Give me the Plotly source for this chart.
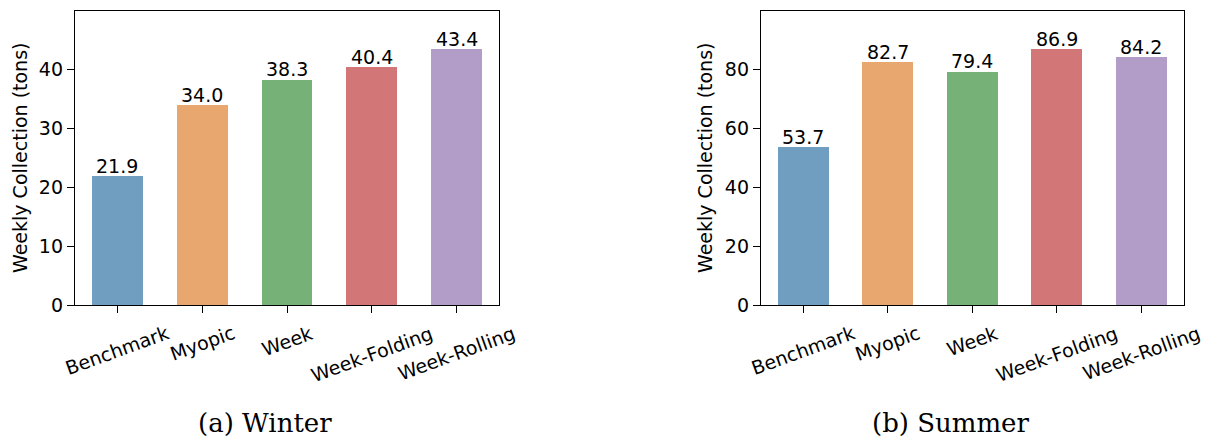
import plotly.graph_objects as go

# Data
methods = ["Benchmark", "Myopic", "Week", "Week-Folding", "Week-Rolling"]
winter_tons = [21.9, 34.0, 38.3, 40.4, 43.4]
summer_tons = [53.7, 82.7, 79.4, 86.9, 84.2]
bar_colors = ["#6F9EC0", "#E8A76E", "#76B277", "#D37677", "#B29CC8"]
captions = ["(a) Winter", "(b) Summer"]
y_title = "Weekly Collection (tons)"
winter_ticks = [0, 10, 20, 30, 40]
summer_ticks = [0, 20, 40, 60, 80]

W, H = 1205, 440
FONT = "DejaVu Sans"
FS = 19

# panel geometry (pixels)
panels = [
    dict(x0=75, x1=499, values=winter_tons, ticks=winter_ticks, caption=captions[0],
         title_x=20, cap_x=265),
    dict(x0=761, x1=1183.5, values=summer_tons, ticks=summer_ticks, caption=captions[1],
         title_x=705, cap_x=950),
]
y_top, y_bot = 10.7, 305.3

fig = go.Figure()
annotations = []

for i, p in enumerate(panels):
    n = "" if i == 0 else str(i + 1)
    xa, ya = "x" + n, "y" + n
    ymax = max(p["values"]) * 1.15

    fig.add_trace(go.Bar(
        x=list(range(len(methods))), y=p["values"],
        marker=dict(color=bar_colors, line=dict(width=0)),
        width=0.6, xaxis=xa, yaxis=ya, showlegend=False,
    ))

    axis_common = dict(showline=True, linecolor="black", linewidth=1.3, mirror=True,
                       ticks="outside", ticklen=7, tickwidth=1.2, tickcolor="black",
                       showgrid=False, zeroline=False, automargin=False,
                       tickfont=dict(family=FONT, size=FS, color="black"))
    fig.update_layout(**{
        "xaxis" + n: dict(domain=[p["x0"] / W, p["x1"] / W], range=[-0.5, len(methods) - 0.5],
                          tickvals=list(range(len(methods))), showticklabels=False,
                          anchor=ya, **axis_common),
        "yaxis" + n: dict(domain=[1 - y_bot / H, 1 - y_top / H], range=[0, ymax],
                          tickvals=p["ticks"], anchor=xa, **axis_common),
    })

    # value labels above bars
    for j, v in enumerate(p["values"]):
        annotations.append(dict(x=j, y=v, xref=xa, yref=ya, text=f"{v:.1f}",
                                showarrow=False, yanchor="bottom", xanchor="center",
                                yshift=-3, font=dict(family=FONT, size=FS, color="black")))

    # rotated category labels
    for j, m in enumerate(methods):
        annotations.append(dict(x=j, y=1 - 319 / H, xref=xa, yref="paper", text=m,
                                showarrow=False, textangle=-20, xanchor="center",
                                yanchor="top", font=dict(family=FONT, size=FS, color="black")))

    # y-axis title
    annotations.append(dict(x=p["title_x"] / W, y=1 - (y_top + y_bot) / 2 / H,
                            xref="paper", yref="paper", text=y_title, showarrow=False,
                            textangle=-90, xanchor="center", yanchor="middle",
                            font=dict(family=FONT, size=FS, color="black")))

    # caption
    annotations.append(dict(x=p["cap_x"] / W, y=1 - 423 / H, xref="paper", yref="paper",
                            text=p["caption"], showarrow=False, xanchor="center",
                            yanchor="middle",
                            font=dict(family="DejaVu Serif", size=26, color="black")))

fig.update_layout(
    width=W, height=H, margin=dict(l=0, r=0, t=0, b=0),
    paper_bgcolor="white", plot_bgcolor="white",
    annotations=annotations, bargap=0,
)

fig.write_html("out.html")
